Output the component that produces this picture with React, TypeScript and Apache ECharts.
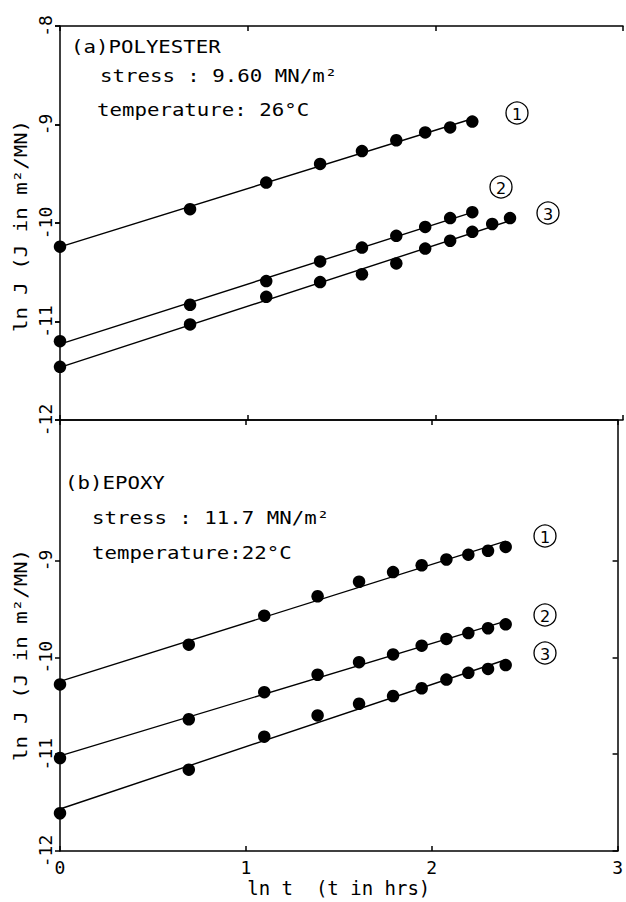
import React, { useEffect, useRef } from "react";
import * as echarts from "echarts";

// ln t for t = 1 … 11 hours
const lnT = [0, 0.693, 1.099, 1.386, 1.609, 1.792, 1.946, 2.079, 2.197, 2.303, 2.398];

// (a) polyester, ln J values for specimens 1–3
const polyester1 = [-10.24, -9.86, -9.59, -9.4, -9.27, -9.16, -9.08, -9.03, -8.97];
const polyester2 = [-11.2, -10.83, -10.59, -10.39, -10.25, -10.13, -10.04, -9.95, -9.89];
const polyester3 = [-11.46, -11.03, -10.75, -10.6, -10.52, -10.41, -10.26, -10.18, -10.09, -10.01, -9.95];

// (b) epoxy, ln J values for specimens 1–3
const epoxy1 = [-10.28, -9.87, -9.57, -9.37, -9.22, -9.12, -9.05, -8.99, -8.94, -8.9, -8.86];
const epoxy2 = [-11.04, -10.64, -10.36, -10.18, -10.05, -9.97, -9.88, -9.81, -9.75, -9.7, -9.66];
const epoxy3 = [-11.61, -11.16, -10.82, -10.6, -10.48, -10.4, -10.32, -10.23, -10.16, -10.12, -10.08];

const xTicks = [0, 1, 2, 3];
const epoxyTicks = [-12, -11, -10, -9];

const MONO = '"DejaVu Sans Mono", "Liberation Mono", monospace';
const BLACK = "#000";

function points(ys: number[]) {
  return ys.map((y, i) => [lnT[i], y]);
}

// least-squares straight line through a specimen's points
function fitLine(ys: number[]) {
  const xs = lnT.slice(0, ys.length);
  const n = ys.length;
  const mx = xs.reduce((s, v) => s + v, 0) / n;
  const my = ys.reduce((s, v) => s + v, 0) / n;
  let sxy = 0;
  let sxx = 0;
  for (let i = 0; i < n; i++) {
    sxy += (xs[i] - mx) * (ys[i] - my);
    sxx += (xs[i] - mx) * (xs[i] - mx);
  }
  const b = sxy / sxx;
  const a = my - b * mx;
  const x0 = xs[0];
  const x1 = xs[n - 1];
  return [
    [x0, a + b * x0],
    [x1, a + b * x1],
  ];
}

const lineStyle = { color: BLACK, width: 1.5 };

function xAxisFor(gridIndex: number, position: "top" | "bottom", withLabels: boolean) {
  return {
    type: "value",
    gridIndex,
    position,
    min: xTicks[0],
    max: xTicks[xTicks.length - 1],
    interval: 1,
    axisLine: { show: true, onZero: false, lineStyle },
    axisTick: { show: true, inside: true, length: 5, lineStyle },
    axisLabel: withLabels
      ? { show: true, fontSize: 18, fontFamily: MONO, color: BLACK, margin: 7 }
      : { show: false },
    splitLine: { show: false },
    ...(withLabels
      ? {
          name: "ln t  (t in hrs)",
          nameLocation: "middle",
          nameGap: 27,
          nameTextStyle: { fontSize: 19, fontFamily: MONO, color: BLACK },
        }
      : {}),
  };
}

function scatterSeries(ys: number[], axis: number) {
  return {
    type: "scatter",
    xAxisIndex: axis,
    yAxisIndex: axis,
    data: points(ys),
    symbol: "circle",
    symbolSize: 12.5,
    itemStyle: { color: BLACK, opacity: 1 },
    z: 3,
  };
}

function fitSeries(ys: number[], axis: number) {
  return {
    type: "line",
    xAxisIndex: axis,
    yAxisIndex: axis,
    data: fitLine(ys),
    showSymbol: false,
    symbol: "none",
    lineStyle: { color: BLACK, width: 1.4 },
    z: 2,
  };
}

function note(text: string, x: number, y: number) {
  return {
    type: "text",
    x,
    y,
    scaleX: 1.22,
    style: {
      text,
      fontSize: 17,
      fontFamily: MONO,
      fill: BLACK,
      align: "left",
      verticalAlign: "middle",
      textAlign: "left",
      textVerticalAlign: "middle",
    },
  };
}

function yTitle(y: number) {
  return {
    type: "text",
    x: 21,
    y,
    rotation: Math.PI / 2,
    scaleX: 1.22,
    style: {
      text: "ln J (J in m²/MN)",
      fontSize: 17,
      fontFamily: MONO,
      fill: BLACK,
      align: "center",
      verticalAlign: "middle",
      textAlign: "center",
      textVerticalAlign: "middle",
    },
  };
}

function circled(digit: string, x: number, y: number) {
  return {
    type: "group",
    x,
    y,
    children: [
      {
        type: "circle",
        shape: { cx: 0, cy: 0, r: 11 },
        style: { fill: "none", stroke: BLACK, lineWidth: 1.3 },
      },
      {
        type: "text",
        x: 0,
        y: 1,
        style: {
          text: digit,
          fontSize: 16,
          fontFamily: '"DejaVu Sans", sans-serif',
          fill: BLACK,
          align: "center",
          verticalAlign: "middle",
          textAlign: "center",
          textVerticalAlign: "middle",
        },
      },
    ],
  };
}

export default function App() {
  const ref = useRef<HTMLDivElement>(null);

  useEffect(() => {
    if (!ref.current) return;
    const chart = echarts.init(ref.current, null, { renderer: "svg" });

    const option = {
      animation: false,
      backgroundColor: "#fff",
      grid: [
        { left: 60, top: 26, width: 563, height: 394 },
        { left: 60, top: 420, width: 563, height: 431 },
      ],
      xAxis: [
        xAxisFor(0, "bottom", false),
        xAxisFor(0, "top", false),
        xAxisFor(1, "bottom", true),
        xAxisFor(1, "top", false),
      ],
      yAxis: [
        {
          type: "value",
          gridIndex: 0,
          position: "left",
          min: -12,
          max: -8,
          interval: 1,
          axisLine: { show: true, onZero: false, lineStyle },
          axisTick: { show: true, inside: false, length: 5, lineStyle },
          axisLabel: { rotate: 90, fontSize: 18, fontFamily: MONO, color: BLACK, margin: 6 },
          splitLine: { show: false },
        },
        {
          type: "value",
          gridIndex: 0,
          position: "right",
          min: -12,
          max: -8,
          interval: 1,
          axisLine: { show: false },
          axisTick: { show: true, inside: true, length: 5, lineStyle },
          axisLabel: { show: false },
          splitLine: { show: false },
        },
        {
          type: "value",
          gridIndex: 1,
          position: "left",
          min: -12,
          max: -7.55,
          interval: 1,
          axisLine: { show: true, onZero: false, lineStyle },
          axisTick: { show: true, inside: false, length: 5, lineStyle, customValues: epoxyTicks },
          axisLabel: {
            rotate: 90,
            fontSize: 18,
            fontFamily: MONO,
            color: BLACK,
            margin: 6,
            customValues: epoxyTicks,
          },
          splitLine: { show: false },
        },
        {
          type: "value",
          gridIndex: 1,
          position: "right",
          min: -12,
          max: -7.55,
          interval: 1,
          axisLine: { show: true, onZero: false, lineStyle },
          axisTick: { show: true, inside: true, length: 5, lineStyle, customValues: epoxyTicks },
          axisLabel: { show: false },
          splitLine: { show: false },
        },
      ],
      series: [
        fitSeries(polyester1, 0),
        fitSeries(polyester2, 0),
        fitSeries(polyester3, 0),
        scatterSeries(polyester1, 0),
        scatterSeries(polyester2, 0),
        scatterSeries(polyester3, 0),
        fitSeries(epoxy1, 2),
        fitSeries(epoxy2, 2),
        fitSeries(epoxy3, 2),
        scatterSeries(epoxy1, 2),
        scatterSeries(epoxy2, 2),
        scatterSeries(epoxy3, 2),
      ],
      graphic: [
        note("(a)POLYESTER", 71, 47),
        note("stress : 9.60 MN/m²", 100, 76),
        note("temperature: 26°C", 97, 110),
        note("(b)EPOXY", 65, 483),
        note("stress : 11.7 MN/m²", 92, 518),
        note("temperature:22°C", 92, 553),
        yTitle(226),
        yTitle(655),
        circled("1", 517, 113),
        circled("2", 501, 187),
        circled("3", 548, 213),
        circled("1", 545, 536),
        circled("2", 545, 615),
        circled("3", 545, 653),
      ],
    };

    chart.setOption(option as any);
    return () => chart.dispose();
  }, []);

  return (
    <div
      ref={ref}
      style={{ position: "fixed", left: 0, top: 0, width: 626, height: 902, background: "#fff" }}
    />
  );
}
